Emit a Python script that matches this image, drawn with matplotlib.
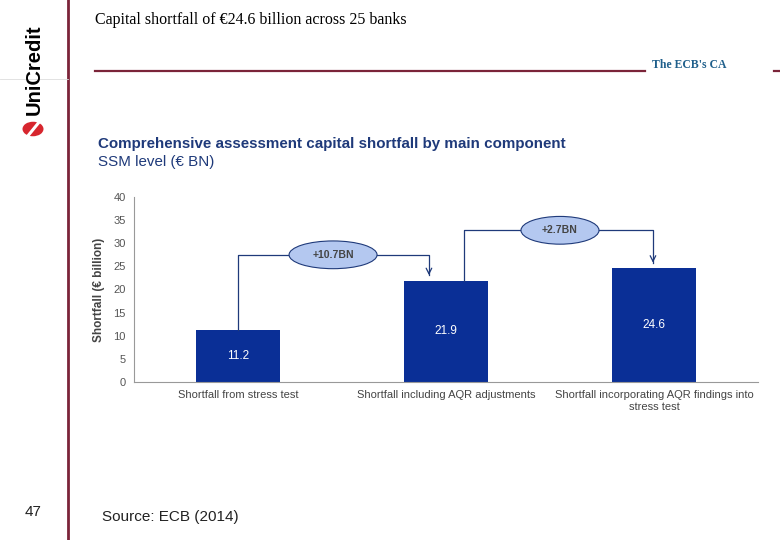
import matplotlib
matplotlib.use("Agg")
import matplotlib.pyplot as plt
from matplotlib.patches import Ellipse, Circle
from matplotlib.lines import Line2D

categories = ["Shortfall from stress test",
              "Shortfall including AQR adjustments",
              "Shortfall incorporating AQR findings into\nstress test"]
values = [11.2, 21.9, 24.6]
increments = ["+10.7BN", "+2.7BN"]
yticks = [0, 5, 10, 15, 20, 25, 30, 35, 40]

W, H = 780, 540
fig = plt.figure(figsize=(7.8, 5.4), dpi=100)
fig.patch.set_facecolor("white")

def fx(px):
    return px / W
def fy(py):
    return 1 - py / H

# page decorations
maroon = "#7B2439"
fig.add_artist(Line2D([fx(68), fx(68)], [0, 1], color=maroon, lw=2))
fig.add_artist(Line2D([0, fx(68)], [fy(79), fy(79)], color="#dddddd", lw=0.6))
fig.add_artist(Line2D([fx(95), fx(645)], [fy(71), fy(71)], color=maroon, lw=1.6))
fig.add_artist(Line2D([fx(774), fx(780)], [fy(71), fy(71)], color=maroon, lw=1.6))
fig.text(fx(95), fy(20), "Capital shortfall of €24.6 billion across 25 banks",
         family="Liberation Serif", fontsize=11.5, va="center", ha="left", color="black")
fig.text(fx(652), fy(65), "The ECB's CA", family="Liberation Serif", fontsize=8.5,
         fontweight="bold", va="center", ha="left", color="#1F5F8B")
fig.text(fx(34), fy(70), "UniCredit", family="Liberation Sans", fontsize=14.5,
         fontweight="bold", rotation=90, va="center", ha="center", color="black")
fig.add_artist(Circle((fx(33), fy(129)), 10.5 / W, transform=fig.transFigure,
                      facecolor="#D7262E", edgecolor="none"))
fig.add_artist(Line2D([fx(27), fx(40)], [fy(137), fy(121)], color="white", lw=2.2))
fig.text(fx(33), fy(512), "47", family="Liberation Sans", fontsize=11,
         va="center", ha="center", color="#222222")
fig.text(fx(102), fy(517), "Source: ECB (2014)", family="Liberation Sans", fontsize=11,
         va="center", ha="left", color="#222222")

navy = "#1F3A7A"
fig.text(fx(98), fy(144), "Comprehensive assessment capital shortfall by main component",
         family="Liberation Sans", fontsize=10.9, fontweight="bold", color=navy,
         va="center", ha="left")
fig.text(fx(98), fy(162), "SSM level (€ BN)", family="Liberation Sans", fontsize=10.9,
         color=navy, va="center", ha="left")

# chart axes
ax = fig.add_axes([fx(134), fy(382), (758 - 134) / W, (382 - 197) / H])
x = list(range(len(values)))
bar_color = "#0A2F96"
ax.bar(x, values, width=0.4, color=bar_color, zorder=2)
for xi, v in zip(x, values):
    ax.text(xi, v / 2, f"{v}", color="white", ha="center", va="center",
            family="Liberation Sans", fontsize=8.5, zorder=3)
ax.set_xlim(-0.5, 2.5)
ax.set_ylim(0, 40)
ax.set_yticks(yticks)
ax.set_xticks(x)
ax.set_xticklabels(categories, family="Liberation Sans", fontsize=8, color="#444444")
ax.tick_params(axis="both", length=0, pad=6)
for lab in ax.get_yticklabels():
    lab.set_family("Liberation Sans")
    lab.set_fontsize(8)
    lab.set_color("#555555")
for s in ["top", "right"]:
    ax.spines[s].set_visible(False)
for s in ["left", "bottom"]:
    ax.spines[s].set_color("#999999")
    ax.spines[s].set_linewidth(0.8)
ax.set_ylabel("Shortfall (€ billion)", family="Liberation Sans", fontsize=8.5,
              fontweight="bold", color="#444444", labelpad=6)

# connectors
line_c = "#1F3A7A"
conn = [
    dict(x0=0.0, y0=values[0], level=27.5, x1=0.918, y1=values[1], ex=0.457, ew=0.423),
    dict(x0=1.087, y0=values[1], level=32.8, x1=1.995, y1=values[2], ex=1.548, ew=0.375),
]
for c, lab in zip(conn, increments):
    ax.plot([c["x0"], c["x0"], c["x1"], c["x1"]],
            [c["y0"], c["level"], c["level"], c["y1"] + 1.2],
            color=line_c, lw=0.9, zorder=3)
    ax.annotate("", xy=(c["x1"], c["y1"] + 0.6), xytext=(c["x1"], c["y1"] + 2.5),
                arrowprops=dict(arrowstyle="->", color=line_c, lw=0.9), zorder=3)
    ax.add_patch(Ellipse((c["ex"], c["level"]), c["ew"], 6.0, facecolor="#B4C8F0",
                         edgecolor=line_c, lw=0.8, zorder=4))
    ax.text(c["ex"], c["level"], lab, ha="center", va="center", family="Liberation Sans",
            fontsize=7.5, fontweight="bold", color="#444444", zorder=5)

fig.savefig("out.png", dpi=100, facecolor="white")
